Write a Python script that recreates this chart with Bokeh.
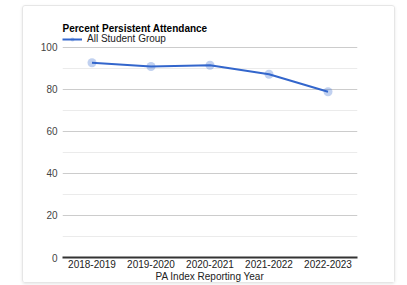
from bokeh.plotting import figure
from bokeh.models import Legend, LegendItem, FixedTicker, Range1d
from bokeh.embed import file_html
from bokeh.resources import INLINE

years = ["2018-2019", "2019-2020", "2020-2021", "2021-2022", "2022-2023"]
pa_values = [92.7, 90.9, 91.5, 87.2, 78.9]
y_ticks = [0, 20, 40, 60, 80, 100]
minor_ticks = [10, 30, 50, 70, 90]

FONT = "Liberation Sans"
BLUE = "#3366cc"

p = figure(
    x_range=years, y_range=Range1d(0, 106.6),
    width=373, height=278,
    output_backend="svg", toolbar_location=None,
    min_border_left=39, min_border_right=39, min_border_top=27, min_border_bottom=25,
    title="Percent Persistent Attendance",
    styles={"margin-left": "22px", "margin-top": "5px",
            "border": "1px solid #e6e6e6", "border-radius": "3px",
            "box-shadow": "0 1px 3px rgba(0,0,0,0.10)"},
)
p.x_range.range_padding = 0
p.outline_line_color = None
p.background_fill_color = "white"
p.border_fill_color = "white"

p.title.text_font = FONT
p.title.text_font_size = "10px"
p.title.text_font_style = "bold"
p.title.text_color = "#000000"
p.title.offset = 0
p.title.standoff = 0

# grids
p.xgrid.grid_line_color = None
p.ygrid.grid_line_color = "#cccccc"
p.ygrid.grid_line_width = 1
p.ygrid.minor_grid_line_color = "#ebebeb"
p.ygrid.ticker = FixedTicker(ticks=y_ticks[1:], minor_ticks=minor_ticks)

# axes
p.yaxis.ticker = FixedTicker(ticks=y_ticks)
p.yaxis.axis_line_color = None
p.yaxis.major_tick_line_color = None
p.yaxis.minor_tick_line_color = None
p.yaxis.major_tick_out = 0
p.yaxis.major_tick_in = 0
p.yaxis.minor_tick_out = 0
p.yaxis.major_label_text_font = FONT
p.yaxis.major_label_text_font_size = "10px"
p.yaxis.major_label_text_color = "#444444"
p.yaxis.major_label_standoff = 5

p.xaxis.axis_line_color = "#333333"
p.xaxis.axis_line_width = 2
p.xaxis.major_tick_line_color = None
p.xaxis.minor_tick_line_color = None
p.xaxis.major_tick_out = 0
p.xaxis.major_tick_in = 0
p.xaxis.major_label_text_font = FONT
p.xaxis.major_label_text_font_size = "10px"
p.xaxis.major_label_text_color = "#222222"
p.xaxis.major_label_standoff = 2
p.xaxis.axis_label = "PA Index Reporting Year"
p.xaxis.axis_label_text_font = FONT
p.xaxis.axis_label_text_font_size = "10px"
p.xaxis.axis_label_text_font_style = "normal"
p.xaxis.axis_label_text_color = "#222222"
p.xaxis.axis_label_standoff = 0

ln = p.line(years, pa_values, line_color=BLUE, line_width=2)
pts = p.scatter(years, pa_values, size=9, fill_color=BLUE, fill_alpha=0.3,
                line_color=None)

legend = Legend(
    items=[LegendItem(label="All Student Group", renderers=[ln, pts])],
    location="top_left",
    padding=0, margin=0, spacing=0,
    glyph_width=20, glyph_height=10, label_standoff=5, label_height=10,
    label_text_font=FONT, label_text_font_size="10px", label_text_color="#222222",
    background_fill_alpha=0, border_line_color=None,
)
p.add_layout(legend, "center")

open("out.html", "w").write(file_html(p, INLINE))
